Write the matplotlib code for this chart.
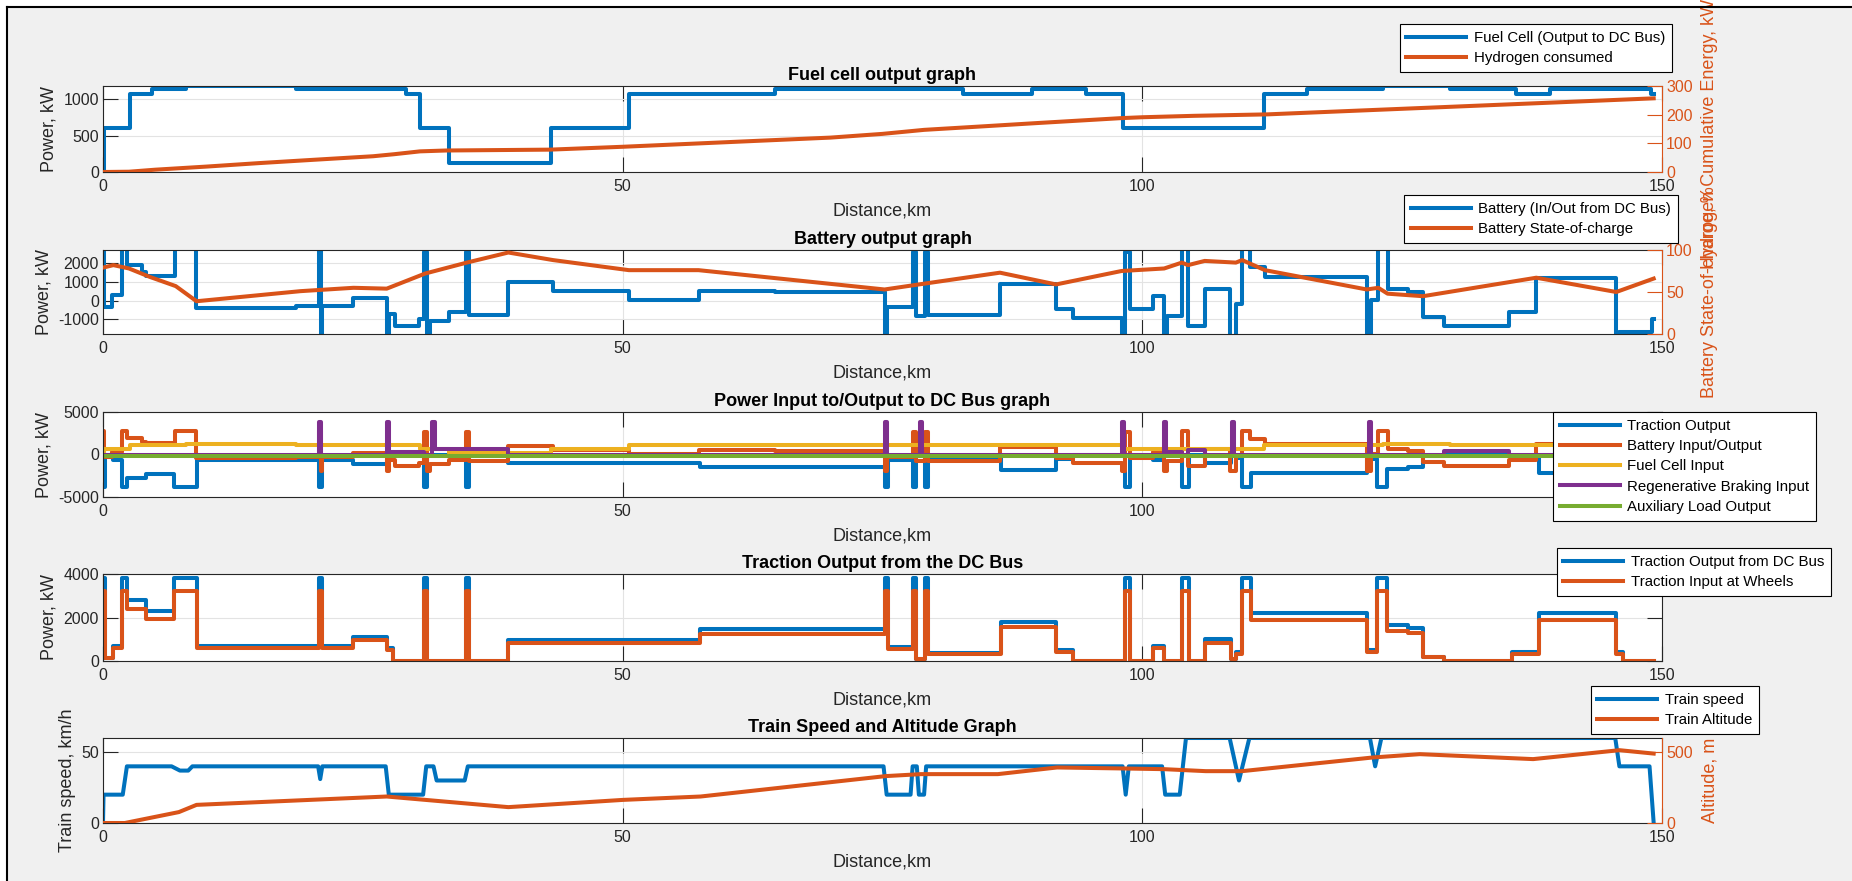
import matplotlib
matplotlib.use('Agg')
import matplotlib.pyplot as plt
from matplotlib.lines import Line2D
from matplotlib.patches import Rectangle

plt.rcParams['font.family'] = ['Liberation Sans', 'DejaVu Sans']
plt.rcParams['axes.unicode_minus'] = False

# MATLAB default line colours
BLUE = '#0072BD'
ORANGE = '#D95319'
YELLOW = '#EDB120'
PURPLE = '#7E2F8E'
GREEN = '#77AC30'
DARK = '#262626'
LW = 2.9

# fuel cell power to DC bus (step changes, km -> kW)
fc_km = [0, 0.05, 2.6, 4.7, 8.0, 18.6, 29.2, 30.5, 33.3, 43.1, 50.6, 64.7, 82.7, 89.4,
         94.6, 98.1, 111.7, 115.8, 123.2, 129.6, 136.0, 139.2, 148.9, 149.2]
fc_kw = [0, 600, 1075, 1135, 1180, 1135, 1075, 600, 120, 600, 1075, 1135, 1075, 1135,
         1075, 600, 1075, 1135, 1180, 1135, 1075, 1135, 1075, 1075]

# hydrogen cumulative energy, kWh
h2_km = [0, 2.5, 5, 10, 15, 20, 26, 28, 30.5, 33, 43, 50, 60, 70, 75, 79, 85, 90, 98,
         100, 105, 112, 120, 130, 140, 149.2]
h2_kwh = [0, 1, 8, 19, 31, 42, 55, 62, 72, 75, 78, 88, 104, 120, 133, 147, 160, 171, 188,
          191, 196, 201, 213, 228, 243, 257]

# battery power in/out of the DC bus (steps)
bat_km = [0, 0.1, 0.9, 1.8, 2.3, 3.8, 4.1, 6.9, 8.9, 18.6, 20.8, 20.95, 21.1, 24.1, 27.3,
          27.5, 28.1, 30.4, 30.9, 31.2, 31.5, 33.3, 34.9, 35.2, 39.0, 43.3, 50.6, 57.3,
          64.7, 75.2, 75.4, 77.9, 78.2, 79.1, 79.4, 86.3, 91.7, 93.3, 98.0, 98.3, 98.8,
          101.0, 102.1, 102.4, 103.8, 104.4, 106.0, 108.4, 109.0, 109.6, 110.4, 111.8,
          121.6, 122.0, 122.7, 123.6, 125.6, 127.0, 129.0, 135.3, 137.9, 145.6, 145.9,
          149.0, 149.2]
bat_kw = [2800, -350, 300, 2800, 1900, 1500, 1300, 2800, -380, -300, 2800, -1900, -300,
          150, -1900, -700, -1350, -1000, 2600, -1900, -1100, -600, 2600, -750, 1000, 500,
          50, 500, 450, -1900, -320, 2600, -800, 2600, -760, 900, -450, -950, -1900, 2600,
          -450, 250, -1900, -800, 2800, -1350, 600, -1900, -200, 2800, 1800, 1250, -1900,
          30, 2800, 600, 470, -850, -1350, -600, 1200, -1900, -1650, -1000, -1000]

# battery state of charge, %
soc_km = [0, 1.0, 2.5, 4.5, 7.0, 9.0, 19.0, 24.1, 27.3, 31.0, 35.0, 39.0, 43.3, 50.6,
          57.3, 75.2, 78.5, 86.3, 91.7, 98.0, 102.1, 103.8, 104.4, 106.0, 109.0, 109.6,
          111.8, 121.6, 122.7, 123.6, 127.0, 137.9, 145.6, 149.2]
soc_pct = [79, 82, 78, 68, 57, 39, 51, 55, 54, 72, 85, 97, 88, 76, 76, 53, 59, 73, 59,
           75, 78, 85, 82, 87, 85, 88, 76, 53, 55, 48, 45, 67, 50, 66]

# traction power: out of the DC bus and delivered at the wheels (steps)
trac_km = [0, 0.15, 1.0, 1.8, 2.3, 4.1, 6.8, 9.0, 20.8, 21.1, 24.1, 27.3, 27.9, 30.9,
           31.2, 34.9, 35.2, 39.0, 57.4, 75.2, 75.5, 77.9, 78.2, 79.1, 79.4, 86.4, 91.7,
           93.3, 98.3, 98.8, 101.0, 102.1, 103.8, 104.5, 106.0, 108.5, 109.0, 109.6,
           110.5, 121.6, 122.6, 123.5, 125.6, 127.0, 129.0, 135.6, 138.2, 145.6, 146.2,
           149.2]
trac_dc = [3800, 150, 700, 3800, 2800, 2300, 3800, 700, 3800, 700, 1100, 600, 0, 3800,
           0, 3800, 0, 950, 1450, 3800, 650, 3800, 100, 3800, 350, 1800, 500, 0, 3800, 0,
           700, 0, 3800, 0, 1000, 100, 400, 3800, 2200, 500, 3800, 1650, 1500, 200, 0,
           400, 2200, 400, 0, 0]
trac_wh = [3200, 120, 600, 3200, 2400, 1950, 3200, 600, 3200, 600, 950, 500, 0, 3200,
           0, 3200, 0, 830, 1250, 3200, 560, 3200, 80, 3200, 300, 1550, 430, 0, 3200, 0,
           600, 0, 3200, 0, 850, 80, 340, 3200, 1900, 430, 3200, 1400, 1300, 170, 0,
           340, 1900, 340, 0, 0]

# regenerative braking input (steps)
regen_km = [0, 20.8, 21.0, 27.3, 27.5, 30.9, 31.7, 31.9, 39.0, 75.2, 75.4, 78.6, 78.8,
            98.0, 98.2, 102.1, 102.3, 103.8, 104.4, 106.0, 108.6, 108.8, 121.8, 122.0,
            129.0, 135.3, 149.2]
regen_kw = [0, 3800, 0, 3800, 350, 0, 3800, 650, 0, 3800, 0, 3800, 0, 3800, 0, 3800,
            350, 0, 550, 0, 3800, 0, 3800, 0, 400, 0, 0]

# auxiliary load
aux_km = [0, 149.2]
aux_kw = [-150, -150]

# train speed and altitude
spd_km = [0, 0.05, 1.9, 2.3, 6.6, 7.4, 8.2, 8.6, 20.7, 20.9, 21.1, 27.2, 27.5, 30.8,
          31.1, 31.8, 32.1, 34.8, 35.1, 75.1, 75.4, 77.7, 77.9, 78.3, 78.5, 79.0, 79.2,
          98.1, 98.4, 98.7, 101.9, 102.2, 103.6, 104.2, 108.4, 109.3, 110.3, 121.9,
          122.4, 123.0, 145.5, 145.9, 148.8, 149.2]
spd_kmh = [0, 20, 20, 40, 40, 37, 37, 40, 40, 31, 40, 40, 20, 20, 40, 40, 30, 30, 40,
           40, 20, 20, 40, 40, 20, 20, 40, 40, 20, 40, 40, 20, 20, 60, 60, 30, 60, 60,
           40, 60, 60, 40, 40, 0]
alt_km = [0, 2.1, 7.3, 9.0, 27.3, 39.0, 50.0, 57.5, 75.3, 78.7, 86.1, 91.8, 98.1,
          102.1, 106.1, 109.6, 122.1, 126.7, 137.6, 145.9, 149.2]
alt_m = [0, 0, 77, 128, 187, 112, 163, 187, 331, 345, 345, 392, 385, 380, 366, 366,
         462, 486, 451, 514, 490]

W, H = 1852, 881
AX_LEFT, AX_RIGHT = 103, 1662


def panel_axes(fig, top, bottom):
    return fig.add_axes([AX_LEFT / W, 1 - bottom / H, (AX_RIGHT - AX_LEFT) / W, (bottom - top) / H])


def style_axes(ax, title, ylabel, ylim, yticks, right_ticks):
    ax.set_facecolor('white')
    ax.set_xlim(0, 150)
    ax.set_xticks([0, 50, 100, 150])
    ax.set_ylim(*ylim)
    ax.set_yticks(yticks)
    ax.tick_params(direction='in', length=11, width=0.8, colors=DARK, labelsize=11.5,
                   top=True, right=right_ticks)
    ax.tick_params(axis='x', pad=5)
    ax.tick_params(axis='y', pad=3)
    for s in ax.spines.values():
        s.set_color(DARK)
        s.set_linewidth(0.8)
    ax.grid(True, color='#e3e3e3', lw=0.8)
    ax.set_axisbelow(True)
    ax.set_title(title, fontsize=13, fontweight='bold', color='black', pad=4)
    ax.set_ylabel(ylabel, fontsize=13, color=DARK, labelpad=4)
    ax.set_xlabel('Distance,km', fontsize=13, color=DARK, labelpad=6)


def right_axis(ax, ylim, yticks, label):
    ax2 = ax.twinx()
    ax.spines['right'].set_visible(False)
    ax.tick_params(axis='y', right=False)
    ax2.set_ylim(*ylim)
    ax2.set_yticks(yticks)
    ax2.tick_params(axis='y', direction='in', length=11, width=0.8, colors=ORANGE,
                    labelsize=11.5, pad=3)
    for side in ['left', 'top', 'bottom']:
        ax2.spines[side].set_visible(False)
    ax2.spines['right'].set_color(ORANGE)
    ax2.spines['right'].set_linewidth(0.8)
    ax2.set_ylabel(label, fontsize=13, color=ORANGE, labelpad=6)
    return ax2


def add_legend(fig, handles, labels, right, top):
    leg = fig.legend(handles, labels, loc='upper right', bbox_to_anchor=(right / W, 1 - top / H),
                     fontsize=10.8, frameon=True, fancybox=False, edgecolor='black',
                     framealpha=1, handlelength=4, handletextpad=0.5, borderpad=0.45,
                     labelspacing=0.42, borderaxespad=0)
    leg.get_frame().set_linewidth(0.8)
    return leg


fig = plt.figure(figsize=(W / 100, H / 100), dpi=100)
fig.patch.set_facecolor('white')
fig.add_artist(Rectangle((7 / W, 0), 1, 1 - 7 / H, transform=fig.transFigure,
                         facecolor='#f0f0f0', edgecolor='none', zorder=-10))
fig.add_artist(Line2D([7 / W, 7 / W], [0, 1 - 7 / H], transform=fig.transFigure, color='black', lw=1.5))
fig.add_artist(Line2D([7 / W, 1], [1 - 7 / H, 1 - 7 / H], transform=fig.transFigure, color='black', lw=1.5))

# fuel cell
ax = panel_axes(fig, 86, 172)
style_axes(ax, 'Fuel cell output graph', 'Power, kW', (0, 1180), [0, 500, 1000], False)
l1, = ax.step(fc_km, fc_kw, where='post', color=BLUE, lw=LW)
ax2 = right_axis(ax, (0, 300), [0, 100, 200, 300], 'Hydrogen Cumulative Energy, kWh')
l2, = ax2.plot(h2_km, h2_kwh, color=ORANGE, lw=LW)
add_legend(fig, [l1, l2], ['Fuel Cell (Output to DC Bus)', 'Hydrogen consumed'], 1672, 24)

# battery
ax = panel_axes(fig, 250, 334)
style_axes(ax, 'Battery output graph', 'Power, kW', (-1780, 2700), [-1000, 0, 1000, 2000], False)
l1, = ax.step(bat_km, bat_kw, where='post', color=BLUE, lw=LW)
ax2 = right_axis(ax, (0, 100), [0, 50, 100], 'Battery State-of-charge, %')
l2, = ax2.plot(soc_km, soc_pct, color=ORANGE, lw=LW)
add_legend(fig, [l1, l2], ['Battery (In/Out from DC Bus)', 'Battery State-of-charge'], 1678, 195)

# DC bus balance
ax = panel_axes(fig, 412, 497)
style_axes(ax, 'Power Input to/Output to DC Bus graph', 'Power, kW', (-5000, 5000),
           [-5000, 0, 5000], True)
hs = []
hs += ax.step(trac_km, [-v for v in trac_dc], where='post', color=BLUE, lw=LW)
hs += ax.step(bat_km, bat_kw, where='post', color=ORANGE, lw=LW)
hs += ax.step(fc_km, fc_kw, where='post', color=YELLOW, lw=LW)
hs += ax.step(regen_km, regen_kw, where='post', color=PURPLE, lw=LW)
hs += ax.plot(aux_km, aux_kw, color=GREEN, lw=LW)
add_legend(fig, hs, ['Traction Output', 'Battery Input/Output', 'Fuel Cell Input',
                     'Regenerative Braking Input', 'Auxiliary Load Output'], 1816, 412)

# traction
ax = panel_axes(fig, 574, 661)
style_axes(ax, 'Traction Output from the DC Bus', 'Power, kW', (0, 4000), [0, 2000, 4000], True)
l1, = ax.step(trac_km, trac_dc, where='post', color=BLUE, lw=LW)
l2, = ax.step(trac_km, trac_wh, where='post', color=ORANGE, lw=LW)
add_legend(fig, [l1, l2], ['Traction Output from DC Bus', 'Traction Input at Wheels'], 1831, 548)

# speed and altitude
ax = panel_axes(fig, 738, 823)
style_axes(ax, 'Train Speed and Altitude Graph', 'Train speed, km/h', (0, 60), [0, 50], False)
l1, = ax.plot(spd_km, spd_kmh, color=BLUE, lw=LW)
ax2 = right_axis(ax, (0, 600), [0, 500], 'Altitude, m')
l2, = ax2.plot(alt_km, alt_m, color=ORANGE, lw=LW)
add_legend(fig, [l1, l2], ['Train speed', 'Train Altitude'], 1759, 686)

fig.savefig('out.png', dpi=100, facecolor=fig.get_facecolor())
